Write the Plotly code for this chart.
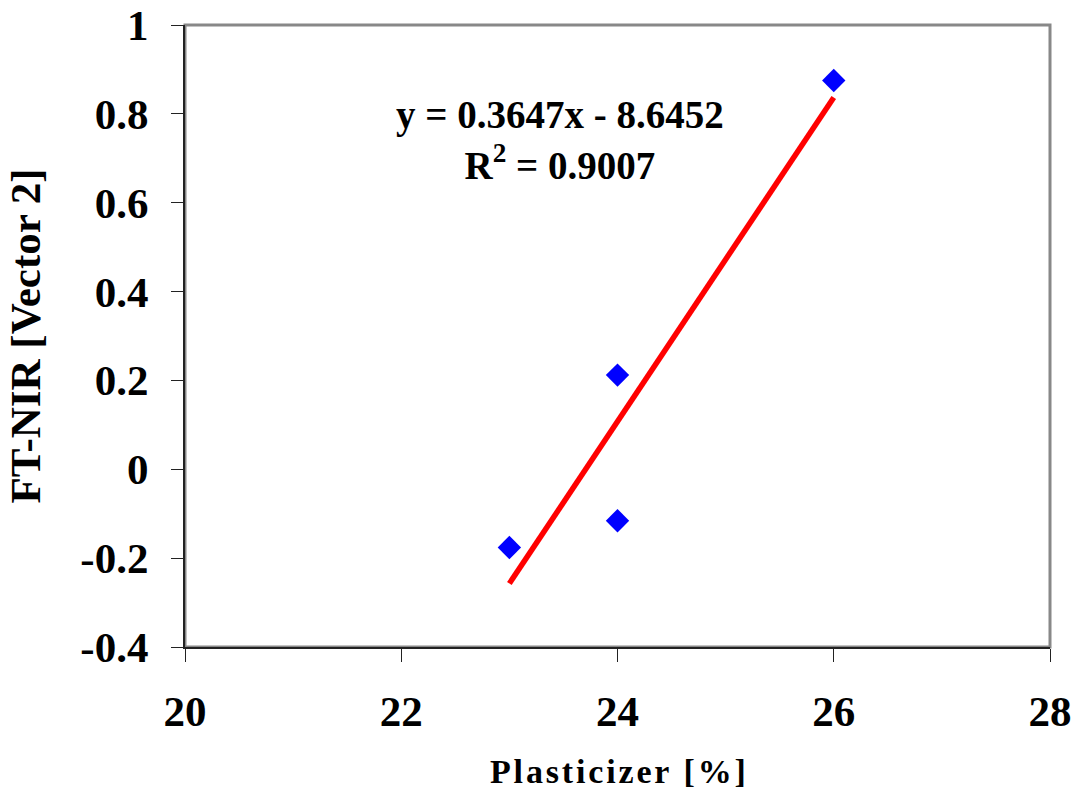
import plotly.graph_objects as go

# Measured samples
plasticizer = [23, 24, 24, 26]
ft_nir = [-0.176, 0.212, -0.116, 0.875]

# Linear trend line reported on the chart
slope = 0.3647
intercept = -8.6452
r_squared = 0.9007

x_ticks = [20, 22, 24, 26, 28]
x_tick_text = ["20", "22", "24", "26", "28"]
y_ticks = [-0.4, -0.2, 0, 0.2, 0.4, 0.6, 0.8, 1.0]
y_tick_text = ["-0.4", "-0.2", "0", "0.2", "0.4", "0.6", "0.8", "1"]

FONT = "Liberation Serif, Times New Roman, serif"

trend_x = [min(plasticizer), max(plasticizer)]
trend_y = [slope * v + intercept for v in trend_x]

fig = go.Figure()

fig.add_trace(go.Scatter(
    x=trend_x, y=trend_y, mode="lines",
    line=dict(color="#FF0000", width=5.5),
    showlegend=False, hoverinfo="skip",
))

fig.add_trace(go.Scatter(
    x=plasticizer, y=ft_nir, mode="markers",
    marker=dict(symbol="diamond", size=18, color="#0000FF",
                line=dict(width=0)),
    showlegend=False,
))

# Gray frame around the plotting area
fig.add_shape(type="rect", xref="paper", yref="paper",
              x0=0, y0=0, x1=1, y1=1,
              line=dict(color="#888888", width=3), layer="below")

fig.add_annotation(
    x=23.47, y=0.741, xref="x", yref="y",
    text=f"y = {slope:.4f}x - {abs(intercept):.4f}<br>R<sup>2</sup> = {r_squared:.4f}",
    showarrow=False, align="center",
    font=dict(family=FONT, size=39, color="black", weight="bold"),
)

# Letter-spaced x-axis title
spaced_title = "\u200a".join("Plasticizer [%]")
fig.add_annotation(
    x=0.5, y=-0.168, xref="paper", yref="paper",
    text=spaced_title, showarrow=False,
    xanchor="center", yanchor="top",
    font=dict(family=FONT, size=34, color="black", weight="bold"),
)

fig.update_xaxes(
    range=[20, 28], tickvals=x_ticks, ticktext=x_tick_text,
    showgrid=False, zeroline=False,
    showline=True, linecolor="#222222", linewidth=2,
    ticks="outside", ticklen=13, tickwidth=1, tickcolor="#222222",
    tickfont=dict(family=FONT, size=43, color="black", weight="bold"),
    ticklabelstandoff=12,
)

fig.update_yaxes(
    range=[-0.4, 1.0], tickvals=y_ticks, ticktext=y_tick_text,
    showgrid=False, zeroline=False,
    showline=True, linecolor="#222222", linewidth=2,
    ticks="outside", ticklen=12, tickwidth=1, tickcolor="#222222",
    tickfont=dict(family=FONT, size=43, color="black", weight="bold"),
    ticklabelstandoff=14,
    title=dict(text="FT-NIR [Vector 2]", standoff=26,
               font=dict(family=FONT, size=43, color="black", weight="bold")),
)

fig.update_layout(
    width=1078, height=796,
    margin=dict(l=185, r=28, t=25, b=149, autoexpand=False),
    paper_bgcolor="white", plot_bgcolor="white",
)

fig.write_html("out.html")
